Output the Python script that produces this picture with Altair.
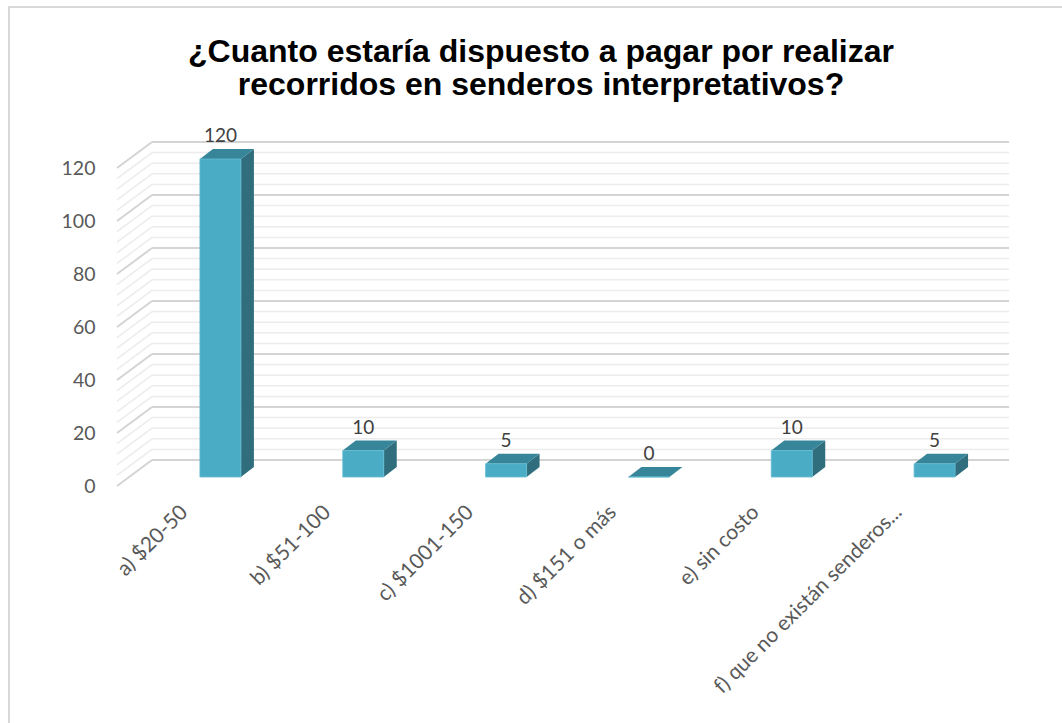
import json
import altair as alt
import pandas as pd

categories = ["a) $20-50", "b) $51-100", "c) $1001-150", "d) $151 o más", "e) sin costo", "f) que no existán senderos..."]
values = [120, 10, 5, 0, 10, 5]
y_ticks = [0, 20, 40, 60, 80, 100, 120]
grid_values = list(range(0, 121, 4))
title_lines = ["¿Cuanto estaría dispuesto a pagar por realizar", "recorridos en senderos interpretativos?"]

# 3D geometry (style constants, in data units)
HALF_W = 0.1435   # half bar width along x
DX = 0.091        # depth shift along x
DY = 3.77         # depth shift along y

FRONT = "#4bacc6"
TOP = "#378599"
SIDE = "#306e7d"

bars = pd.DataFrame({"pos": list(range(len(categories))), "cat": categories, "v": values})
bars["x1"] = bars["pos"] - HALF_W
bars["x2"] = bars["pos"] + HALF_W

side_rows, top_rows = [], []
for i, (c, v) in enumerate(zip(categories, values)):
    for t in (0, 1):
        side_rows.append({"cat": c, "x": i + HALF_W + DX * t, "y": v + DY * t, "y0": DY * t})
        top_rows.append({"cat": c, "y": v + DY * t, "xa": i - HALF_W + DX * t, "xb": i + HALF_W + DX * t})
side_df = pd.DataFrame(side_rows)
top_df = pd.DataFrame(top_rows)

grid_df = pd.DataFrame({"g": grid_values, "major": [g % 20 == 0 for g in grid_values]})

label_expr = json.dumps(categories) + "[datum.value]"

xscale = alt.Scale(domain=[-0.5, len(categories) - 0.5], nice=False, zero=False)
yscale = alt.Scale(domain=[0, 120], nice=False)

base_x = alt.X(
    "pos:Q", scale=xscale,
    axis=alt.Axis(values=list(range(len(categories))), labelExpr=label_expr, title=None,
                  grid=False, domain=False, ticks=False, labelAngle=-45, labelFont="Lato",
                  labelFontSize=21, labelColor="#595959", labelOffset=-44, labelPadding=24,
                  labelFlush=False, labelOverlap=False, labelLimit=400, zindex=1),
)
base_y = alt.Y("g:Q", scale=yscale, axis=alt.Axis(values=y_ticks, title=None, grid=False, domain=False,
               ticks=False, labelFont="Lato", labelFontSize=19.5, labelColor="#595959",
               labelPadding=54, labelOffset=9, labelFlush=False, zindex=1))

border = alt.Chart(bars.head(1)).mark_rect(fillOpacity=0, stroke="#d9d9d9", strokeWidth=2).encode(
    x=alt.value(-140), x2=alt.value(1000), y=alt.value(-152), y2=alt.value(700)
)

grid_color = alt.condition("datum.major", alt.value("#d4d4d4"), alt.value("#ececec"))
grid_width = alt.condition("datum.major", alt.value(2), alt.value(1.5))

back_grid = alt.Chart(grid_df).mark_rule(yOffset=-17).encode(
    x=alt.value(3), x2=alt.value(860), y=base_y, color=grid_color, strokeWidth=grid_width,
)
side_grid = alt.Chart(grid_df).mark_rule(yOffset=9, y2Offset=-17).encode(
    x=alt.value(-32), x2=alt.value(3),
    y=alt.Y("g:Q", scale=yscale), y2="g:Q", color=grid_color, strokeWidth=grid_width,
)

side = alt.Chart(side_df).mark_area(orient="vertical", color=SIDE).encode(
    x=alt.X("x:Q", scale=xscale), y=alt.Y("y:Q", scale=yscale), y2="y0:Q", detail="cat:N"
)
top = alt.Chart(top_df).mark_area(orient="horizontal", color=TOP).encode(
    y=alt.Y("y:Q", scale=yscale), x=alt.X("xa:Q", scale=xscale), x2="xb:Q", detail="cat:N"
)
front = alt.Chart(bars).mark_rect(color=FRONT, stroke="#62bcd3", strokeWidth=0.8).encode(
    x=alt.X("x1:Q", scale=xscale), x2="x2:Q",
    y=alt.Y("v:Q", scale=yscale), y2=alt.datum(0)
)
axis_layer = alt.Chart(bars).mark_point(opacity=0).encode(x=base_x, y=alt.Y("v:Q", scale=yscale))
labels = alt.Chart(bars).mark_text(font="Lato", fontSize=19, color="#404040", dy=-17, baseline="alphabetic").encode(
    x=alt.X("pos:Q", scale=xscale), y=alt.Y("v:Q", scale=yscale), text="v:Q"
)

title_style = dict(font="Liberation Sans", fontSize=32, fontWeight="bold", color="black",
                   align="center", baseline="alphabetic")
title1 = alt.Chart(bars.head(1)).mark_text(**title_style).encode(
    x=alt.value(392), y=alt.value(-97), text=alt.value(title_lines[0]))
title2 = alt.Chart(bars.head(1)).mark_text(**title_style).encode(
    x=alt.value(392), y=alt.value(-64), text=alt.value(title_lines[1]))

chart = alt.layer(border, back_grid, side_grid, side, top, front, axis_layer, labels, title1, title2).properties(
    width=857, height=318,
    background="white",
    autosize=alt.AutoSizeParams(type="none"),
    padding={"left": 149, "top": 159, "right": 56, "bottom": 246},
).configure_view(stroke=None).configure_axis(grid=False)

chart.save("out.html", embed_options={"renderer": "svg", "actions": False})
